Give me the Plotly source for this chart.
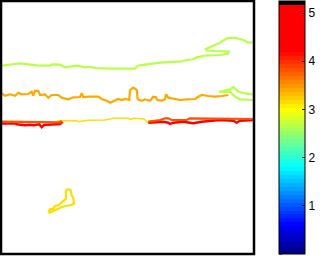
import plotly.graph_objects as go
import numpy as np

# ---- colour scale (data range) ----
CMIN, CMAX = 0.0, 5.25
N_LEVELS = 64
cb_ticks = [0, 1, 2, 3, 4, 5]
knot_v = [0.0, 0.6, 1.8, 3.0, 4.2, CMAX]
knot_c = [(0, 0, 0.5), (0, 0, 1), (0, 1, 1), (1, 1, 0), (1, 0, 0), (1, 0, 0)]

# ---- contour lines (x, y in axis units, y grows downward) ----
l1_level = 2.7
l1_x = [1.7, 10, 15, 20, 27, 37, 50, 52, 60, 65, 70, 78, 85, 90, 95, 112, 135, 137.3, 140, 160, 181.7, 186.7,
        193.3, 196.7, 205, 220, 228, 229, 215, 207, 206, 211.7, 220, 226.7, 235, 243.3, 248.3, 253.5]
l1_y = [65.7, 65, 64, 63.3, 64.3, 65.3, 65.7, 64.3, 64.7, 67.3, 66.7, 65.7, 67.3, 66.7, 68, 68.7, 68.7, 66, 65.3,
        62.7, 61.3, 60, 59.3, 57.3, 55.7, 55, 53.5, 51.5, 51, 50.5, 49, 46.7, 42.7, 38.3, 37.7, 40, 42.7, 42.3]

l2_level = 2.7
l2_x = [253.5, 245, 238.3, 233.3, 230, 225, 219.3, 221, 230, 235, 240, 248.3, 253.5]
l2_y = [94.3, 93.3, 91.7, 87, 89.3, 90.5, 91.7, 92, 91.7, 96.7, 99.3, 99.3, 100]

l3_level = 3.4
l3_x = [1.7, 5, 10, 15, 18.3, 21.7, 28.3, 31.7, 33.3, 35, 38.3, 40, 45, 48.3, 51.7, 58.3, 61.7, 68.3, 73.3, 80,
        81.7, 83.3, 88.3, 98.3, 101.7, 106.7, 110, 115, 118.3, 121.7, 125, 129.3, 130, 133.3, 136.7, 137.7, 141.7,
        145, 150, 153.3, 156, 157.3, 161.7, 165, 166, 168.3, 173.3, 180, 186.7, 195, 198.3, 201.7, 208.3, 215,
        221.7, 228.3]
l3_y = [93.3, 95.7, 94.3, 95.7, 92.7, 94.3, 94, 91.7, 95.7, 90.7, 91, 95, 94.3, 97.7, 95, 95, 97.7, 99.3, 97.3, 97,
        93.3, 97, 96.7, 96.7, 99, 100.7, 102.7, 100.7, 99, 100, 99, 100, 90, 87.7, 90, 99.3, 100.7, 99.3, 100.7,
        96.7, 97.3, 100, 100.7, 99.3, 94.3, 97.7, 99, 100, 99.3, 99, 96.7, 95, 96, 96.7, 96, 95]

l4_level = 3.19
l4_x = [57.3, 76.7, 78.3, 85, 88.3, 105, 113.3, 128.3, 130, 135, 140, 144, 146.7, 148.3]
l4_y = [120.7, 120.7, 121.7, 120.5, 120.3, 120, 118.3, 118.3, 119.3, 118.3, 118.3, 119, 121.7, 122.7]

l6_level = 4.3
l6a_x = [1.7, 15, 16.7, 25, 30, 33.3, 39.3, 41.7, 44, 60, 61.7, 60]
l6a_y = [123.5, 123.5, 124.3, 125.3, 124.7, 125.3, 124.3, 127.3, 125, 124, 122.7, 121]
l6b_x = [148.3, 163.3, 168.3, 170, 173.3, 183.3, 190, 193.3, 201.7, 211.7, 220, 233.3, 236.7, 240, 253.5]
l6b_y = [122.7, 121.7, 122.7, 124, 122.7, 121.7, 122.7, 123.3, 121.7, 121, 120, 120.7, 122.7, 120.7, 120]

l5_level = 3.78
l5a_x = [1.7, 30, 61.7]
l5a_y = [121.7, 122, 122.3]
l5b_x = [148.3, 160, 165, 168.3, 171.7, 186.7, 190, 195, 203.3, 240, 243.3, 253.5]
l5b_y = [121.7, 120, 118.3, 118.3, 120, 120, 118.3, 118.3, 119, 119, 118.3, 119]

l7_level = 3.19
l7_x = [48.3, 50, 53.3, 55, 58.3, 61.7, 64, 66, 66, 68.3, 70.7, 71.7, 73.3, 74, 71.7, 66.7, 61.7, 58.3, 55, 51.7,
        49.3, 48.3]
l7_y = [212, 209.3, 208.7, 206, 205.3, 202.7, 200.3, 198.7, 190.3, 189.3, 190.3, 195.3, 198, 203.7, 204.7, 206,
        207, 208.7, 210.3, 212, 212.7, 212]


def cmap_rgb(v):
    r = np.interp(v, knot_v, [c[0] for c in knot_c])
    g = np.interp(v, knot_v, [c[1] for c in knot_c])
    b = np.interp(v, knot_v, [c[2] for c in knot_c])
    return r, g, b


def level_color(i):
    if i >= N_LEVELS - 1:
        return "rgb(0,0,0)"
    v = (i + 0.5) * (CMAX - CMIN) / N_LEVELS + CMIN
    r, g, b = cmap_rgb(v)
    return f"rgb({int(round(r*255))},{int(round(g*255))},{int(round(b*255))})"


def value_color(v):
    i = int(np.floor((v - CMIN) / (CMAX - CMIN) * N_LEVELS))
    return level_color(min(max(i, 0), N_LEVELS - 1))


colorscale = []
for i in range(N_LEVELS):
    c = level_color(i)
    colorscale.append([i / N_LEVELS, c])
    colorscale.append([(i + 1) / N_LEVELS, c])

fig = go.Figure()

lines = [
    (l1_x, l1_y, l1_level, 2.2),
    (l2_x, l2_y, l2_level, 2.2),
    (l3_x, l3_y, l3_level, 2.2),
    (l4_x, l4_y, l4_level, 1.4),
    (l6a_x, l6a_y, l6_level, 2.4),
    (l6b_x, l6b_y, l6_level, 2.4),
    (l5a_x, l5a_y, l5_level, 2.2),
    (l5b_x, l5b_y, l5_level, 2.2),
    (l7_x, l7_y, l7_level, 2.2),
]
for xs, ys, lev, w in lines:
    fig.add_trace(go.Scatter(x=xs, y=ys, mode="lines", line=dict(color=value_color(lev), width=w),
                             hoverinfo="skip", showlegend=False))

# colour bar carrier
fig.add_trace(go.Scatter(
    x=[l1_x[0], l1_x[0]], y=[l1_y[0], l1_y[0]], mode="markers", hoverinfo="skip", showlegend=False,
    marker=dict(size=0.1, opacity=0, color=[CMIN, CMAX], cmin=CMIN, cmax=CMAX, colorscale=colorscale,
                showscale=True,
                colorbar=dict(x=(279 - 1) / 253, xanchor="left", xpad=0, thickness=26, thicknessmode="pixels",
                              len=1, lenmode="fraction", y=0.5, yanchor="middle", ypad=0,
                              outlinewidth=1, outlinecolor="black",
                              tickvals=cb_ticks, ticks="inside", ticklen=3, tickcolor="black",
                              tickfont=dict(family="Liberation Sans", size=12, color="black"))),
))

shapes = [dict(type="rect", xref="paper", yref="paper", x0=0, x1=1, y0=0, y1=1,
               line=dict(color="black", width=2.5), layer="above")]
for t in cb_ticks:
    yp = (t - CMIN) / (CMAX - CMIN)
    shapes.append(dict(type="line", xref="paper", yref="paper", x0=(279 - 1) / 253, x1=(282 - 1) / 253,
                       y0=yp, y1=yp, line=dict(color="black", width=1)))

fig.update_layout(
    width=326, height=256,
    margin=dict(l=1, r=72, t=1, b=2),
    paper_bgcolor="white", plot_bgcolor="white",
    xaxis=dict(range=[1, 254], showgrid=False, zeroline=False, showticklabels=False, ticks="",
               fixedrange=True),
    yaxis=dict(range=[254, 1], showgrid=False, zeroline=False, showticklabels=False, ticks="",
               fixedrange=True),
    shapes=shapes,
)

fig.write_html("out.html", config={"displayModeBar": False})
